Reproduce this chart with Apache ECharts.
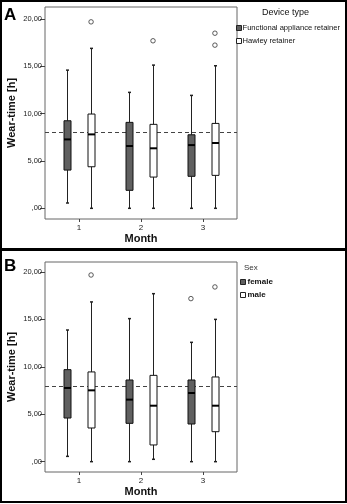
<!DOCTYPE html>
<html>
<head>
<meta charset="utf-8">
<script src="https://cdn.jsdelivr.net/npm/echarts@6/dist/echarts.min.js"></script>
<style>
  html, body { margin: 0; padding: 0; background: #fff; }
  #chart { width: 347px; height: 504px; }
</style>
</head>
<body>
<div id="chart"></div>
<script>
// Wear-time per month, split by device type (A) and by sex (B).
// Each box row: [month, lower whisker, Q1, median, Q3, upper whisker]
const months = [1, 2, 3];
const monthLabels = ['1', '2', '3'];
const yTicks = [0, 5, 10, 15, 20];
const yTickLabels = [',00', '5,00', '10,00', '15,00', '20,00'];
const targetHours = 8;

const functionalBoxes = [
  [1, 0.56, 4.04, 7.28, 9.25, 14.6],
  [2, 0.0, 1.9, 6.58, 9.08, 12.25],
  [3, 0.0, 3.38, 6.68, 7.77, 11.93]
];
const hawleyBoxes = [
  [1, 0.0, 4.39, 7.81, 9.96, 16.9],
  [2, 0.0, 3.3, 6.34, 8.87, 15.13],
  [3, 0.0, 3.48, 6.9, 8.97, 15.06]
];
const functionalOutliers = [];
const hawleyOutliers = [[1, 19.7], [2, 17.7], [3, 18.5], [3, 17.24]];

const femaleBoxes = [
  [1, 0.56, 4.6, 7.77, 9.7, 13.88],
  [2, 0.0, 4.04, 6.54, 8.61, 15.08],
  [3, 0.0, 3.97, 7.24, 8.61, 12.58]
];
const maleBoxes = [
  [1, 0.0, 3.55, 7.52, 9.46, 16.84],
  [2, 0.25, 1.76, 5.9, 9.1, 17.71],
  [3, 0.0, 3.16, 5.9, 8.93, 15.0]
];
const femaleOutliers = [[3, 17.19]];
const maleOutliers = [[1, 19.68], [3, 18.42]];

const FONT = '"Liberation Sans", Arial, sans-serif';
const DARK = '#606060';
const LIGHT = '#ffffff';

function boxRenderer(offset, fill) {
  return function (params, api) {
    const m = api.value(0);
    const cx = Math.round(api.coord([m, 0])[0] + offset) + 0.5;
    const yLow = api.coord([m, api.value(1)])[1];
    const yQ1 = api.coord([m, api.value(2)])[1];
    const yMed = api.coord([m, api.value(3)])[1];
    const yQ3 = api.coord([m, api.value(4)])[1];
    const yHigh = api.coord([m, api.value(5)])[1];
    const hw = 3.5, cap = 1.5;
    const stroke = { stroke: '#222', lineWidth: 1 };
    return {
      type: 'group',
      children: [
        { type: 'line', shape: { x1: cx, y1: yLow, x2: cx, y2: yQ1 }, style: stroke },
        { type: 'line', shape: { x1: cx, y1: yQ3, x2: cx, y2: yHigh }, style: stroke },
        { type: 'line', shape: { x1: cx - cap, y1: yLow, x2: cx + cap, y2: yLow }, style: { stroke: '#222', lineWidth: 1.5 } },
        { type: 'line', shape: { x1: cx - cap, y1: yHigh, x2: cx + cap, y2: yHigh }, style: { stroke: '#222', lineWidth: 1.5 } },
        { type: 'rect', shape: { x: cx - hw, y: yQ3, width: hw * 2, height: yQ1 - yQ3 }, style: { fill: fill, stroke: '#111', lineWidth: 1 } },
        { type: 'line', shape: { x1: cx - hw, y1: yMed, x2: cx + hw, y2: yMed }, style: { stroke: '#000', lineWidth: 2 } }
      ]
    };
  };
}

function boxSeries(name, data, gi, offset, fill) {
  return {
    name: name, type: 'custom', xAxisIndex: gi, yAxisIndex: gi, z: 3,
    itemStyle: { color: fill, borderColor: '#222', borderWidth: 1 },
    renderItem: boxRenderer(offset, fill),
    encode: { x: 0, y: [1, 2, 3, 4, 5] },
    data: data
  };
}

function outlierSeries(data, gi, offset) {
  return {
    type: 'scatter', xAxisIndex: gi, yAxisIndex: gi, z: 4,
    symbol: 'circle', symbolSize: 4.5, symbolOffset: [offset, 0],
    itemStyle: { color: '#fff', borderColor: '#333', borderWidth: 1 },
    silent: true, data: data
  };
}

function targetLine(gi) {
  return {
    type: 'line', xAxisIndex: gi, yAxisIndex: gi, data: [], z: 1, silent: true,
    markLine: {
      silent: true, symbol: ['none', 'none'], z: 1,
      label: { show: false },
      lineStyle: { type: [4, 3], color: '#444', width: 1 },
      data: [{ yAxis: targetHours }]
    }
  };
}

function xAxis(gi) {
  return {
    type: 'value', gridIndex: gi, min: 0.45, max: 3.55, position: 'bottom',
    name: 'Month', nameLocation: 'middle', nameGap: 14, nameMoveOverlap: false,
    nameTextStyle: { fontFamily: FONT, fontWeight: 'bold', fontSize: 11, color: '#111' },
    axisLine: { show: false, onZero: false },
    splitLine: { show: false },
    axisTick: { show: true, length: 3, customValues: months, lineStyle: { color: '#444' } },
    axisLabel: {
      customValues: months, margin: 5, fontFamily: FONT, fontSize: 8, color: '#222',
      formatter: function (v) { return monthLabels[months.indexOf(v)]; }
    }
  };
}

function yAxis(gi, min, max) {
  return {
    type: 'value', gridIndex: gi, min: min, max: max, position: 'left',
    name: 'Wear-time [h]', nameLocation: 'middle', nameGap: 28, nameMoveOverlap: false,
    nameTextStyle: { fontFamily: FONT, fontWeight: 'bold', fontSize: 11, color: '#111' },
    axisLine: { show: false, onZero: false },
    splitLine: { show: false },
    axisTick: { show: true, length: 5, customValues: yTicks, lineStyle: { color: '#444' } },
    axisLabel: {
      customValues: yTicks, margin: 3, fontFamily: FONT, fontSize: 7.5, color: '#222',
      formatter: function (v) { return yTickLabels[yTicks.indexOf(v)]; }
    }
  };
}

const chart = echarts.init(document.getElementById('chart'), null, { renderer: 'canvas' });

chart.setOption({
  animation: false,
  backgroundColor: '#fff',
  grid: [
    { left: 45, top: 7, width: 192, height: 212, outerBoundsMode: 'none', containLabel: false, show: true, borderColor: '#666', borderWidth: 1, backgroundColor: 'transparent' },
    { left: 45, top: 262, width: 192, height: 210, outerBoundsMode: 'none', containLabel: false, show: true, borderColor: '#666', borderWidth: 1, backgroundColor: 'transparent' }
  ],
  xAxis: [xAxis(0), xAxis(1)],
  yAxis: [yAxis(0, -1.13, 21.27), yAxis(1, -1.09, 21.05)],
  legend: [
    {
      left: 231, top: 19, orient: 'vertical', itemWidth: 5, itemHeight: 5, itemGap: 5,
      icon: 'rect', selectedMode: false,
      textStyle: { fontFamily: FONT, fontSize: 7.6, color: '#111', padding: [0, 0, 0, -4] },
      data: [
        { name: 'Functional appliance retainer', itemStyle: { color: DARK, borderColor: '#222', borderWidth: 1 } },
        { name: 'Hawley retainer', itemStyle: { color: LIGHT, borderColor: '#222', borderWidth: 1 } }
      ]
    },
    {
      left: 235, top: 273, orient: 'vertical', itemWidth: 5, itemHeight: 5, itemGap: 5,
      icon: 'rect', selectedMode: false,
      textStyle: { fontFamily: FONT, fontSize: 8, fontWeight: 'bold', color: '#111', padding: [0, 0, 0, -3] },
      data: [
        { name: 'female', itemStyle: { color: DARK, borderColor: '#222', borderWidth: 1 } },
        { name: 'male', itemStyle: { color: LIGHT, borderColor: '#222', borderWidth: 1 } }
      ]
    }
  ],
  graphic: [
    { type: 'rect', shape: { x: 1, y: 1, width: 345, height: 248 }, style: { fill: 'none', stroke: '#000', lineWidth: 2 }, z: 10 },
    { type: 'rect', shape: { x: 1, y: 250, width: 345, height: 252 }, style: { fill: 'none', stroke: '#000', lineWidth: 2 }, z: 10 },
    { type: 'text', left: 4, top: 7, style: { text: 'A', fontFamily: FONT, fontWeight: 'bold', fontSize: 17, fill: '#000' } },
    { type: 'text', left: 4, top: 258, style: { text: 'B', fontFamily: FONT, fontWeight: 'bold', fontSize: 17, fill: '#000' } },
    { type: 'text', left: 262, top: 8, style: { text: 'Device type', fontFamily: FONT, fontSize: 9, fill: '#111' } },
    { type: 'text', left: 244, top: 264, style: { text: 'Sex', fontFamily: FONT, fontSize: 8, fill: '#333' } }
  ],
  series: [
    targetLine(0),
    boxSeries('Functional appliance retainer', functionalBoxes, 0, -12, DARK),
    boxSeries('Hawley retainer', hawleyBoxes, 0, 12, LIGHT),
    outlierSeries(functionalOutliers, 0, -12),
    outlierSeries(hawleyOutliers, 0, 12),
    targetLine(1),
    boxSeries('female', femaleBoxes, 1, -12, DARK),
    boxSeries('male', maleBoxes, 1, 12, LIGHT),
    outlierSeries(femaleOutliers, 1, -12),
    outlierSeries(maleOutliers, 1, 12)
  ]
});
</script>
</body>
</html>
